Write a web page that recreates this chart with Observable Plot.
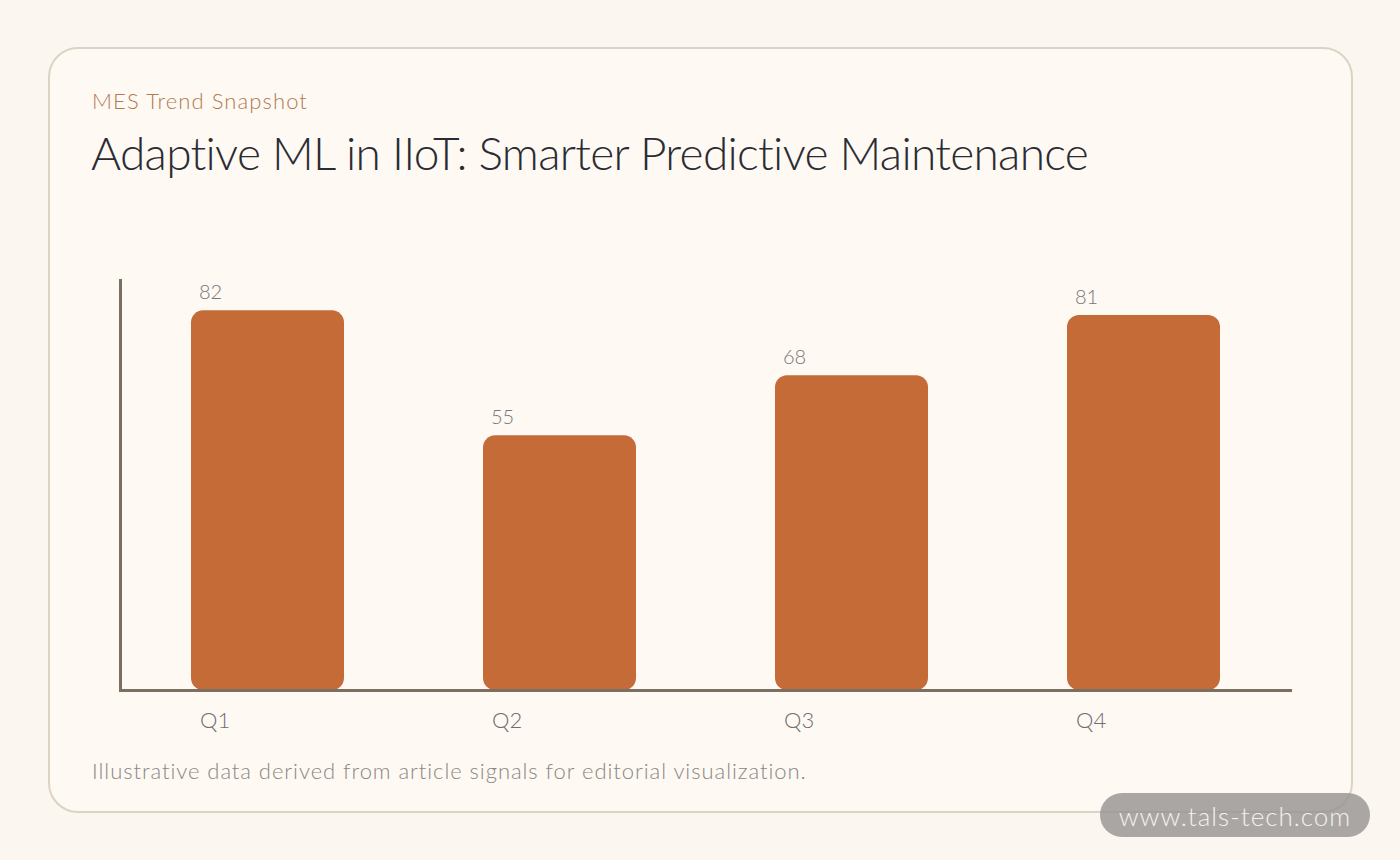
<!DOCTYPE html>
<html>
<head>
<meta charset="utf-8">
<script src="https://cdn.jsdelivr.net/npm/d3@7"></script>
<script src="https://cdn.jsdelivr.net/npm/@observablehq/plot@0.6"></script>
<style>
  html, body { margin: 0; padding: 0; }
  body { width: 1400px; height: 860px; background: #fbf6ef; position: relative; overflow: hidden; font-family: Lato, "Open Sans", sans-serif; font-weight: 300; }
  .card { position: absolute; left: 48px; top: 47px; width: 1305px; height: 766px; border: 2px solid #ddd3c4; border-radius: 30px; background: #fef9f3; box-sizing: border-box; }
  .kicker { position: absolute; left: 92px; top: 87px; font-size: 22px; color: #b27a52; letter-spacing: 1.1px; white-space: nowrap; }
  .title { position: absolute; left: 91px; top: 125px; font-size: 46px; color: #2b2c33; letter-spacing: -0.7px; white-space: nowrap; }
  .caption { position: absolute; left: 92px; top: 757px; font-size: 22px; color: #8a8784; letter-spacing: 0.95px; white-space: nowrap; }
  #chart { position: absolute; left: 0; top: 0; }
  .wm { position: absolute; left: 1100px; top: 793px; width: 270px; height: 44px; border-radius: 22px; background: rgba(150,148,146,0.82); color: #f4f1ec; font-size: 26px; line-height: 46px; text-align: center; letter-spacing: 1px; }
</style>
</head>
<body>
<div class="card"></div>
<div class="kicker">MES Trend Snapshot</div>
<div class="title">Adaptive ML in IIoT: Smarter Predictive Maintenance</div>
<div id="chart"></div>
<div class="caption">Illustrative data derived from article signals for editorial visualization.</div>
<div class="wm">www.tals-tech.com</div>
<script>
const quarters = ["Q1", "Q2", "Q3", "Q4"];
const values = [82, 55, 68, 81];
const data = quarters.map((q, i) => ({q, v: values[i]}));
const yMax = d3.max(values) * 1.08;

const plot = Plot.plot({
  width: 1400,
  height: 860,
  marginLeft: 120,
  marginRight: 110,
  marginTop: 280,
  marginBottom: 170,
  style: { background: "transparent", fontFamily: "Lato, 'Open Sans', sans-serif", fontWeight: 300 },
  x: { domain: quarters, paddingInner: 0.477, paddingOuter: 0.24, axis: null },
  y: { domain: [0, yMax], axis: null },
  marks: [
    Plot.barY(data, { x: "q", y: "v", fill: "#c46b38", rx: 12 }),
    Plot.frame({ anchor: "left", stroke: "#7b6f61", strokeWidth: 3 }),
    Plot.frame({ anchor: "bottom", stroke: "#7b6f61", strokeWidth: 3 }),
    Plot.text(data, { x: "q", y: "v", text: d => String(d.v), textAnchor: "start", dx: -69, dy: -18, fontSize: 20, fill: "#77767a" }),
    Plot.text(data, { x: "q", y: 0, text: "q", textAnchor: "start", dx: -68, dy: 30, fontSize: 22, fill: "#6e6d70" })
  ]
});
document.getElementById("chart").appendChild(plot);
</script>
</body>
</html>
